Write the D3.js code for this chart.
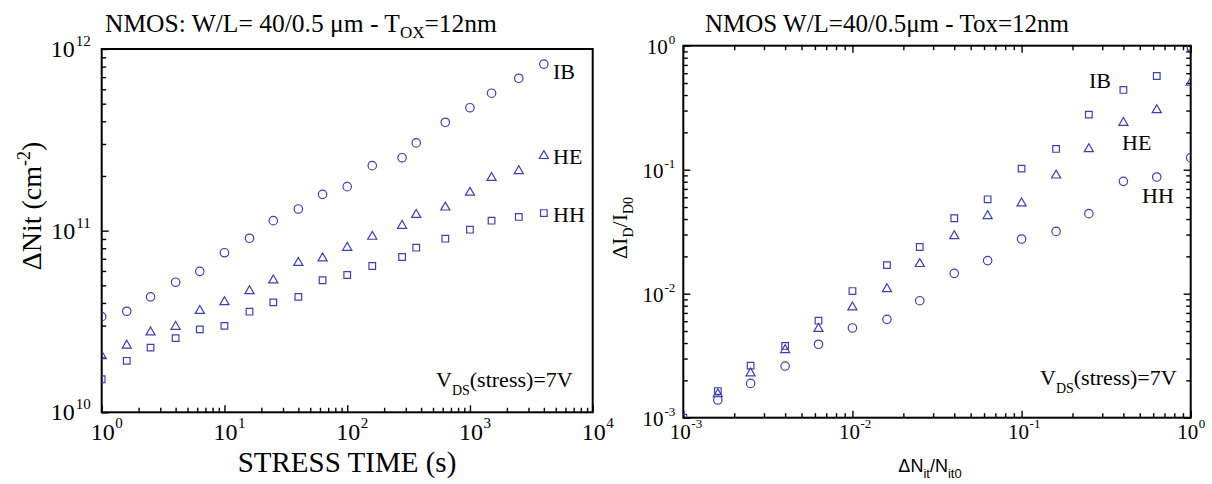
<!DOCTYPE html>
<html><head><meta charset="utf-8">
<script src="https://cdn.jsdelivr.net/npm/d3@7"></script>
<style>body{margin:0;background:#fff}svg{display:block}</style>
</head><body><svg id="c" width="1212" height="484"></svg>
<script>
// ---- Left panel data: interface trap density vs stress time ----
const stressTime = [1,1.6,2.5,4,6.3,10,16,25,40,63,100,160,280,365,630,1000,1500,2500,4000];
const nitIB = [3.36e10,3.6e10,4.32e10,5.2e10,5.97e10,7.56e10,9.08e10,1.135e11,1.316e11,1.585e11,1.746e11,2.28e11,2.52e11,3.04e11,3.95e11,4.75e11,5.71e11,6.9e11,8.26e11];
const nitHE = [2.04e10,2.33e10,2.76e10,2.96e10,3.62e10,4.05e10,4.65e10,5.33e10,6.66e10,7.05e10,8.06e10,9.27e10,1.065e11,1.224e11,1.343e11,1.62e11,1.956e11,2.13e11,2.58e11];
const nitHH = [1.52e10,1.92e10,2.27e10,2.56e10,2.86e10,2.99e10,3.58e10,4.03e10,4.32e10,5.33e10,5.7e10,6.39e10,7.16e10,8.06e10,9.03e10,1.012e11,1.135e11,1.19e11,1.25e11];
const leftXTicks = [1,10,100,1000,10000];
const leftXExp = ["0","1","2","3","4"];
const leftYTicks = [1e10,1e11,1e12];
const leftYExp = ["10","11","12"];

// ---- Right panel data: drain current degradation vs normalized Nit ----
const nRatioIB = [0.001,0.0016,0.0025,0.004,0.0063,0.01,0.016,0.025,0.04,0.063,0.1,0.16,0.25,0.4,0.63,1.0];
const idIB = [0.001,1.64e-3,2.63e-3,3.79e-3,6.06e-3,1.05e-2,1.70e-2,2.38e-2,4.06e-2,5.77e-2,0.102,0.147,0.278,0.44,0.57,0.98];
const nRatio = [0.0016,0.0025,0.004,0.0063,0.01,0.016,0.025,0.04,0.063,0.1,0.16,0.25,0.4,0.63,1.0];
const idHE = [1.55e-3,2.28e-3,3.52e-3,5.22e-3,7.77e-3,1.09e-2,1.74e-2,2.92e-2,4.24e-2,5.36e-2,9.0e-2,0.147,0.239,0.303,0.504];
const idHH = [1.39e-3,1.89e-3,2.61e-3,3.91e-3,5.29e-3,6.21e-3,8.78e-3,1.46e-2,1.85e-2,2.76e-2,3.18e-2,4.42e-2,8.06e-2,8.73e-2,0.125];
const rightXTicks = [1e-3,1e-2,1e-1,1];
const rightXExp = ["-3","-2","-1","0"];
const rightYTicks = [1e-3,1e-2,1e-1,1];
const rightYExp = ["-3","-2","-1","0"];

const MARK = "#3c40b4";
const SERIF = "'Liberation Serif','Times New Roman',serif";
const SANS = "'Liberation Sans',Arial,sans-serif";
const svg = d3.select("#c");

function minors(lo, hi){
  const out=[];
  for(let e=Math.round(Math.log10(lo)); e<Math.round(Math.log10(hi)); e++)
    for(let k=2;k<=9;k++) out.push(k*Math.pow(10,e));
  return out;
}

function panel(o){
  const x = d3.scaleLog().domain(o.xd).range([o.x0,o.x1]);
  const y = d3.scaleLog().domain(o.yd).range([o.y1,o.y0]);
  const g = svg.append("g");
  const clipId = "clip"+o.id;
  svg.append("clipPath").attr("id",clipId).append("rect")
    .attr("x",o.x0).attr("y",o.y0).attr("width",o.x1-o.x0).attr("height",o.y1-o.y0);

  const xMin = minors(o.xd[0],o.xd[1]), yMin = minors(o.yd[0],o.yd[1]);
  const sides = [
    {ax:d3.axisBottom, s:x, t:`translate(0,${o.y1})`, maj:o.xTicks, min:xMin},
    {ax:d3.axisLeft, s:y, t:`translate(${o.x0},0)`, maj:o.yTicks, min:yMin}
  ];
  if(o.allSides){
    sides.push({ax:d3.axisTop, s:x, t:`translate(0,${o.y0})`, maj:o.xTicks, min:xMin});
    sides.push({ax:d3.axisRight, s:y, t:`translate(${o.x1},0)`, maj:o.yTicks, min:yMin});
  }
  sides.forEach(sd=>{
    [[sd.maj,7],[sd.min,4.5]].forEach(([vals,len])=>{
      const a = g.append("g").attr("transform",sd.t)
        .call(sd.ax(sd.s).tickValues(vals).tickSize(-len).tickFormat(""));
      a.select(".domain").remove();
      a.selectAll(".tick line").attr("stroke","#000").attr("stroke-width",1.4);
    });
  });

  g.append("rect").attr("x",o.x0).attr("y",o.y0).attr("width",o.x1-o.x0).attr("height",o.y1-o.y0)
    .attr("fill","none").attr("stroke","#000").attr("stroke-width",2);

  o.xTicks.forEach((v,i)=>{
    const cx = x(v) + o.xlab.dx;
    g.append("text").attr("x",cx).attr("y",o.y1+o.xlab.base).attr("text-anchor","middle")
      .attr("font-family",SERIF).attr("font-size",o.xlab.fs).text("10");
    g.append("text").attr("x",cx+o.xlab.fs*0.5+0.5).attr("y",o.y1+o.xlab.base-o.xlab.up).attr("text-anchor","start")
      .attr("font-family",SERIF).attr("font-size",o.xlab.sfs).text(o.xExp[i]);
  });
  o.yTicks.forEach((v,i)=>{
    const t = g.append("text").attr("x",o.x0-o.ylab.gap).attr("y",y(v)+o.ylab.base).attr("text-anchor","end")
      .attr("font-family",SERIF).attr("font-size",o.ylab.fs);
    t.append("tspan").text("10");
    t.append("tspan").attr("dx",o.ylab.sdx).attr("dy",-o.ylab.up).attr("font-size",o.ylab.sfs).text(o.yExp[i]);
  });

  const pts = g.append("g").attr("clip-path",`url(#${clipId})`);
  o.series.forEach(s=>{
    const sym = d3.symbol().type(s.type).size(s.size);
    pts.selectAll(null).data(s.xs.map((d,i)=>[d,s.ys[i]])).enter().append("path")
      .attr("d",sym).attr("transform",d=>`translate(${x(d[0])},${y(d[1])})`)
      .attr("fill","none").attr("stroke",MARK).attr("stroke-width",1.2);
  });
  return {x,y,g};
}

panel({id:"L", x0:101.7, x1:592.7, y0:49, y1:412.3, xd:[1,1e4], yd:[1e10,1e12],
  xTicks:leftXTicks, xExp:leftXExp, yTicks:leftYTicks, yExp:leftYExp, allSides:false,
  xlab:{fs:24, sfs:15, base:28, up:12, dx:1}, ylab:{fs:24, sfs:15, gap:11, base:8, up:11, sdx:1},
  series:[
    {xs:stressTime, ys:nitIB, type:d3.symbolCircle, size:56},
    {xs:stressTime, ys:nitHE, type:d3.symbolTriangle, size:36},
    {xs:stressTime, ys:nitHH, type:d3.symbolSquare, size:44}
  ]});

panel({id:"R", x0:683.3, x1:1190.7, y0:45.7, y1:417.7, xd:[1e-3,1], yd:[1e-3,1],
  xTicks:rightXTicks, xExp:rightXExp, yTicks:rightYTicks, yExp:rightYExp, allSides:true,
  xlab:{fs:21, sfs:13, base:21, up:11, dx:-3}, ylab:{fs:21, sfs:13, gap:8, base:8, up:10, sdx:1},
  series:[
    {xs:nRatioIB, ys:idIB, type:d3.symbolSquare, size:44},
    {xs:nRatio, ys:idHE, type:d3.symbolTriangle, size:36},
    {xs:nRatio, ys:idHH, type:d3.symbolCircle, size:56}
  ]});

function txt(x,y,s,fs,anchor,fam){
  return svg.append("text").attr("x",x).attr("y",y).attr("font-family",fam||SERIF)
    .attr("font-size",fs).attr("text-anchor",anchor||"start").text(s);
}
const t1 = txt(105,32,"NMOS: W/L= 40/0.5 μm - T",25.5);
t1.append("tspan").attr("dy",6).attr("font-size",17).text("OX");
t1.append("tspan").attr("dy",-6).text("=12nm");
txt(887,32,"NMOS W/L=40/0.5μm - Tox=12nm",25,"middle");

txt(553,79,"IB",22); txt(553,164,"HE",22); txt(553,222,"HH",22);
txt(1089,88,"IB",22); txt(1122,150,"HE",22); txt(1142,203,"HH",22);

[[436,387],[1040,385]].forEach(([x,y])=>{
  const t = txt(x,y,"V",22);
  t.append("tspan").attr("dy",8).attr("font-size",14).text("DS");
  t.append("tspan").attr("dy",-8).text("(stress)=7V");
});

txt(347,472,"STRESS TIME (s)",29,"middle");
const yl = svg.append("text").attr("transform","translate(41,206) rotate(-90)").attr("text-anchor","middle")
  .attr("font-family",SERIF).attr("font-size",28);
yl.append("tspan").text("ΔNit (cm");
yl.append("tspan").attr("dy",-11).attr("font-size",18).text("-2");
yl.append("tspan").attr("dy",11).text(")");

const yr = svg.append("text").attr("transform","translate(627,228) rotate(-90)").attr("text-anchor","middle")
  .attr("font-family",SERIF).attr("font-size",22);
yr.append("tspan").text("ΔI");
yr.append("tspan").attr("dy",6).attr("font-size",14).text("D");
yr.append("tspan").attr("dy",-6).text("/I");
yr.append("tspan").attr("dy",6).attr("font-size",14).text("D0");

const xr = svg.append("text").attr("x",930).attr("y",472).attr("text-anchor","middle")
  .attr("font-family",SANS).attr("font-size",18);
xr.append("tspan").text("ΔN");
xr.append("tspan").attr("dy",6).attr("font-size",13).text("it");
xr.append("tspan").attr("dy",-6).text("/N");
xr.append("tspan").attr("dy",6).attr("font-size",13).text("it0");
</script></body></html>
